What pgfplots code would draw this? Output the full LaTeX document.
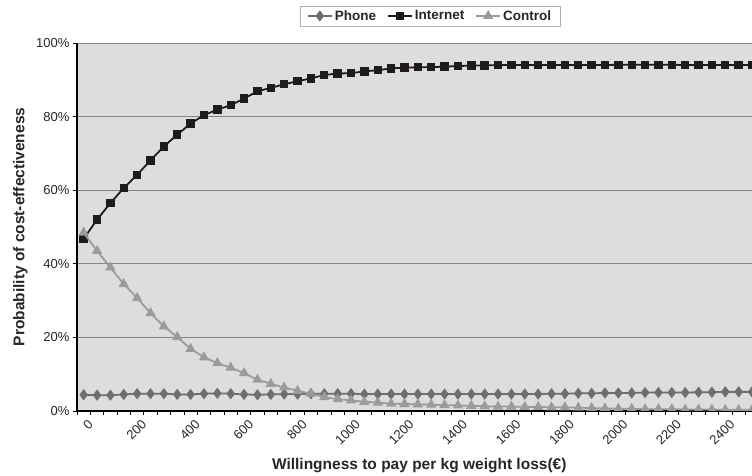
\documentclass[border=0pt]{standalone}
\usepackage{pgfplots}
\pgfplotsset{compat=1.18}
\usepackage{pgfplotstable}
\usepackage{fontspec}
\setmainfont{Liberation Sans}
\definecolor{bg}{HTML}{DCDDDF}
\definecolor{phonec}{HTML}{6E6E70}
\definecolor{ctrlc}{HTML}{9B9B9D}
\definecolor{netc}{HTML}{1F1B1C}
\definecolor{gridc}{HTML}{858585}

\pgfplotstableread{
x internet phone control
0 46.8 4.4 48.5
50 52.0 4.3 43.5
100 56.5 4.3 39.0
150 60.6 4.5 34.5
200 64.2 4.7 30.7
250 68.1 4.7 26.6
300 71.9 4.7 23.0
350 75.1 4.5 20.1
400 78.1 4.5 16.9
450 80.4 4.7 14.6
500 81.9 4.8 13.0
550 83.1 4.7 11.8
600 84.9 4.5 10.3
650 86.9 4.4 8.5
700 87.8 4.5 7.4
750 88.8 4.6 6.4
800 89.6 4.6 5.5
850 90.4 4.7 4.7
900 91.3 4.7 3.8
950 91.7 4.7 3.2
1000 91.8 4.7 2.9
1050 92.3 4.6 2.5
1100 92.6 4.6 2.3
1150 93.1 4.6 2.0
1200 93.3 4.6 1.9
1250 93.4 4.6 1.8
1300 93.4 4.6 1.7
1350 93.6 4.6 1.6
1400 93.7 4.6 1.5
1450 93.9 4.6 1.4
1500 93.9 4.6 1.3
1550 94.0 4.6 1.2
1600 94.0 4.6 1.2
1650 94.0 4.6 1.1
1700 94.0 4.6 1.1
1750 94.0 4.7 1.0
1800 94.0 4.7 1.0
1850 94.0 4.8 0.9
1900 94.0 4.8 0.8
1950 94.0 4.9 0.7
2000 94.1 4.9 0.6
2050 94.1 4.9 0.6
2100 94.1 5.0 0.5
2150 94.1 5.0 0.5
2200 94.1 5.0 0.5
2250 94.0 5.0 0.4
2300 94.0 5.1 0.4
2350 94.0 5.1 0.4
2400 94.0 5.2 0.3
2450 94.0 5.2 0.3
2500 94.0 5.2 0.3
}\data

\begin{document}
\begin{tikzpicture}
\begin{axis}[
  at={(77pt,65pt)}, anchor=south west,
  scale only axis, width=675pt, height=368pt,
  xmin=-25, xmax=2500, ymin=0, ymax=100,
  axis x line=bottom, axis y line=left,
  axis line style={-, black, line width=1.2pt},
  axis background/.style={fill=bg},
  clip marker paths=true,
  ymajorgrids, grid style={gridc, line width=0.9pt},
  ytick={0,20,40,60,80,100},
  yticklabels={0\%,20\%,40\%,60\%,80\%,100\%},
  xtick={0,200,...,2400},
  xticklabels={0,200,400,600,800,1000,1200,1400,1600,1800,2000,2200,2400},
  minor xtick={-25,25,...,2475},
  tick align=outside,
  major tick length=4pt, minor tick length=4pt,
  major x tick style={draw=none},
  tick style={black, line width=0.8pt},
  ticklabel style={font=\fontsize{13}{15}\selectfont, text=black!85},
  xticklabel style={rotate=45, anchor=east, inner sep=1pt, yshift=-10pt, xshift=1pt},
  xlabel={Willingness to pay per kg weight loss(€)},
  ylabel={Probability of cost-effectiveness},
  label style={font=\bfseries\fontsize{15.5}{17}\selectfont, text=black!85},
  xlabel style={at={(axis description cs:0.507,-0.149)}, anchor=center},
  ylabel style={at={(axis description cs:-0.084,0.5)}, anchor=center, rotate=0},
  legend style={at={(axis description cs:0.523,1.0734)}, anchor=center,
    legend columns=3, draw=gray!60, fill=white, line width=0.6pt,
    font=\bfseries\fontsize{13.5}{15}\selectfont, text=black!85,
    inner xsep=7pt, inner ysep=2.5pt,
    /tikz/every even column/.append style={column sep=9pt}},
  legend cell align=left,
  legend image code/.code={\draw[mark repeat=2,mark phase=2] plot coordinates {(0pt,0pt) (12pt,0pt) (24pt,0pt)};},
]
\addplot[phonec, line width=1.8pt, mark=diamond*, mark size=4.2pt, mark options={solid, fill=phonec}] table[x=x,y=phone] {\data};
\addlegendentry{Phone}
\addplot[netc, line width=1.8pt, mark=square*, mark size=3.3pt, mark options={solid, fill=netc}] table[x=x,y=internet] {\data};
\addlegendentry{Internet}
\addplot[ctrlc, line width=1.8pt, mark=triangle*, mark size=4.2pt, mark options={solid, fill=ctrlc}] table[x=x,y=control] {\data};
\addlegendentry{Control}
\end{axis}
\pgfresetboundingbox
\path[use as bounding box] (0,0) rectangle (752pt,476pt);
\end{tikzpicture}
\end{document}
